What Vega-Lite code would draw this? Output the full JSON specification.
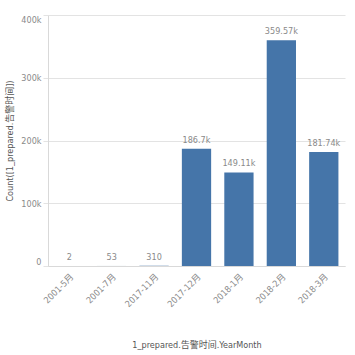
{
  "$schema": "https://vega.github.io/schema/vega-lite/v6.json",
  "width": 297,
  "height": 251,
  "autosize": {"type": "none"},
  "padding": {"left": 48, "top": 15, "right": 10, "bottom": 89},
  "background": "#ffffff",
  "config": {
    "view": {"stroke": null},
    "font": "Liberation Sans Narrow, DejaVu Sans Condensed, Noto Sans CJK SC",
    "axis": {
      "labelColor": "#8a8a8a",
      "titleColor": "#555555",
      "labelFontSize": 9,
      "titleFontSize": 9,
      "titleFontWeight": "normal",
      "domainColor": "#d9d9d9",
      "tickColor": "#e3e3e3",
      "gridColor": "#e3e3e3",
      "font": "Liberation Sans Narrow, DejaVu Sans Condensed, Noto Sans CJK SC"
    }
  },
  "data": {
    "values": [
      {"month": "2001-5月", "count": 2},
      {"month": "2001-7月", "count": 53},
      {"month": "2017-11月", "count": 310},
      {"month": "2017-12月", "count": 186700},
      {"month": "2018-1月", "count": 149110},
      {"month": "2018-2月", "count": 359570},
      {"month": "2018-3月", "count": 181740}
    ]
  },
  "encoding": {
    "x": {
      "field": "month",
      "type": "nominal",
      "sort": null,
      "scale": {"paddingInner": 0.31, "paddingOuter": 0.155},
      "axis": {
        "title": "1_prepared.告警时间.YearMonth",
        "labelAngle": -45,
        "ticks": false,
        "labelPadding": 6,
        "titlePadding": 32
      }
    },
    "y": {
      "field": "count",
      "type": "quantitative",
      "scale": {"domain": [0, 400000]},
      "axis": {
        "title": "Count([1_prepared.告警时间])",
        "values": [0, 100000, 200000, 300000, 400000],
        "labelExpr": "datum.value == 0 ? '0' : format(datum.value, '~s')",
        "labelOverlap": false,
        "labelFlush": true,
        "tickSize": 5,
        "labelPadding": 2,
        "titlePadding": 6
      }
    }
  },
  "layer": [
    {"mark": {"type": "bar", "color": "#4575a9"}},
    {
      "mark": {"type": "text", "baseline": "bottom", "dy": -4, "fontSize": 9, "color": "#8a8a8a"},
      "encoding": {"text": {"field": "count", "type": "quantitative", "format": ".5~s"}}
    }
  ]
}
